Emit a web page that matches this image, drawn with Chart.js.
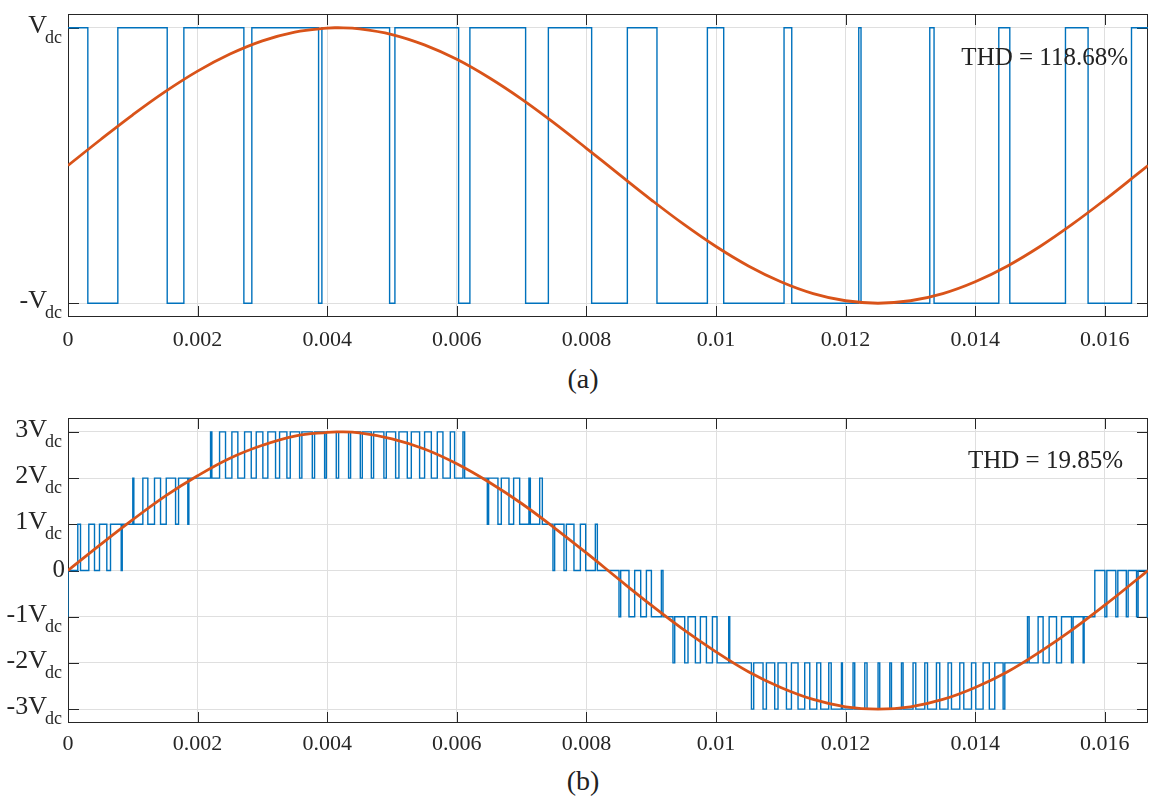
<!DOCTYPE html>
<html>
<head>
<meta charset="utf-8">
<title>PWM output voltage</title>
<script src="https://cdn.jsdelivr.net/npm/chart.js@4.4.0/dist/chart.umd.min.js"></script>
<style>
  body { margin: 0; background: #fff; width: 1149px; height: 799px; position: relative; overflow: hidden; }
  .wrap { position: absolute; left: 0; width: 1149px; }
  #boxA { top: 0; height: 362px; }
  #boxB { top: 404px; height: 360px; }
  .cap { position: absolute; left: 543px; width: 80px; text-align: center; font: 28px/30px "Liberation Serif", serif; color: #222; }
</style>
</head>
<body>
<div class="wrap" id="boxA"><canvas id="chartA" width="1149" height="362"></canvas></div>
<div class="wrap" id="boxB"><canvas id="chartB" width="1149" height="360"></canvas></div>
<div class="cap" style="top:364px">(a)</div>
<div class="cap" style="top:766px">(b)</div>
<script>
// ============================
// DATA
// ============================
const T_END = 1 / 60;

// x axis
const xTicks = [0, 0.002, 0.004, 0.006, 0.008, 0.01, 0.012, 0.014, 0.016];
const xLabels = ['0', '0.002', '0.004', '0.006', '0.008', '0.01', '0.012', '0.014', '0.016'];

// y axes
const yTicksA = [-1, 1];
const yLabelsA = [['-V', 'dc'], ['V', 'dc']];
const yTicksB = [-3, -2, -1, 0, 1, 2, 3];
const yLabelsB = [['-3V', 'dc'], ['-2V', 'dc'], ['-1V', 'dc'], ['0', ''], ['1V', 'dc'], ['2V', 'dc'], ['3V', 'dc']];

// reference sine (time in ms)
const refMs = [0, 0.5, 1, 1.5, 2, 2.5, 3, 3.5, 4, 4.167, 4.5, 5, 5.5, 6, 6.5, 7, 7.5, 8, 8.5, 9, 9.5,
  10, 10.5, 11, 11.5, 12, 12.5, 13, 13.5, 14, 14.5, 15, 15.5, 16, 16.5, 16.667];
const refA = [0, 0.187, 0.368, 0.536, 0.685, 0.809, 0.905, 0.969, 0.998, 1.0, 0.992, 0.951, 0.876, 0.771,
  0.637, 0.482, 0.309, 0.125, -0.063, -0.249, -0.426, -0.588, -0.729, -0.844, -0.930, -0.982, -1.0,
  -0.982, -0.930, -0.844, -0.729, -0.588, -0.426, -0.249, -0.063, 0];
const refB = [0, 0.56, 1.10, 1.61, 2.05, 2.43, 2.71, 2.91, 2.99, 3.0, 2.98, 2.85, 2.63, 2.31, 1.91, 1.45,
  0.93, 0.38, -0.19, -0.75, -1.28, -1.76, -2.19, -2.53, -2.79, -2.95, -3.0, -2.95, -2.79, -2.53, -2.19,
  -1.76, -1.28, -0.75, -0.19, 0];

// two-level output: [switch instant in us, level from that instant]
const pwmA = [
  [0, 1], [306, -1], [769, 1], [1531, -1], [1788, 1], [2714, -1], [2837, 1], [3867, -1], [3918, 1],
  [4963, -1], [5045, 1], [6028, -1], [6202, 1], [7062, -1], [7413, 1], [8081, -1], [8632, 1],
  [9089, -1], [9867, 1], [10119, -1], [11050, 1], [11169, -1], [12203, 1], [12238, -1],
  [13299, 1], [13365, -1], [14364, 1], [14534, -1], [15393, 1], [15742, -1], [16412, 1], [16667, 1]
];

// seven-level output: [switch instant in us, level from that instant]
const pwmB = [
  [0, -1], [0, 0], [151, 1], [193, 0], [321, 1], [409, 0], [486, 1], [599, 0], [656, 1], [821, 0], [837, 1],
  [1000, 2], [1016, 1], [1155, 2], [1232, 1], [1335, 2], [1428, 1], [1516, 2], [1660, 1], [1706, 2], [1849, 1], [1865, 2],
  [2200, 3], [2220, 2], [2339, 3], [2431, 2], [2529, 3], [2621, 2], [2725, 3], [2828, 2], [2905, 3], [3007, 2],
  [3084, 3], [3203, 2], [3265, 3], [3378, 2], [3430, 3], [3574, 2], [3609, 3], [3770, 2], [3805, 3], [3960, 2],
  [3986, 3], [4140, 2], [4176, 3], [4330, 2], [4361, 3], [4511, 2], [4542, 3], [4681, 2], [4716, 3], [4875, 2],
  [4912, 3], [5056, 2], [5107, 3], [5236, 2], [5298, 3], [5426, 2], [5503, 3], [5607, 2], [5699, 3], [5786, 2],
  [5900, 3], [5966, 2], [6095, 3], [6121, 2],
  [6471, 1], [6491, 2], [6635, 1], [6687, 2], [6805, 1], [6877, 2], [6970, 1], [7113, 2], [7135, 1], [7279, 2], [7320, 1],
  [7484, 0], [7510, 1], [7654, 0], [7691, 1], [7808, 0], [7907, 1], [7989, 0], [8138, 1], [8169, 0],
  [8503, -1], [8529, 0], [8657, -1], [8745, 0], [8838, -1], [8926, 0], [9003, -1], [9157, 0], [9182, -1],
  [9336, -2], [9363, -1], [9517, -2], [9568, -1], [9682, -2], [9759, -1], [9852, -2], [9945, -1], [10016, -2], [10196, -1], [10212, -2],
  [10547, -3], [10582, -2], [10726, -3], [10778, -2], [10906, -3], [10957, -2], [11087, -3], [11164, -2],
  [11266, -3], [11369, -2], [11447, -3], [11555, -2], [11616, -3], [11740, -2], [11778, -3], [11936, -2],
  [11951, -3], [12115, -2], [12141, -3], [12296, -2], [12331, -3], [12501, -2], [12527, -3], [12682, -2],
  [12708, -3], [12862, -2], [12887, -3], [13041, -2], [13083, -3], [13222, -2], [13264, -3], [13402, -2],
  [13453, -3], [13581, -2], [13634, -3], [13762, -2], [13824, -3], [13943, -2], [14009, -3], [14122, -2],
  [14218, -3], [14302, -2], [14431, -3], [14457, -2],
  [14807, -1], [14832, -2], [14971, -1], [15048, -2], [15141, -1], [15255, -2], [15332, -1], [15486, -2], [15511, -1], [15666, -2], [15681, -1],
  [15846, 0], [16001, -1], [16031, 0], [16170, -1], [16201, 0], [16332, -1], [16360, 0], [16490, -1], [16514, 0],
  [16655, -1], [16667, -1]
];

const thdA = 'THD = 118.68%';
const thdB = 'THD = 19.85%';

// ============================
// STYLE
// ============================
const SERIF = '"Liberation Serif", "Times New Roman", serif';
const AXIS = '#262626';
const GRID = '#dfdfdf';
const TICK = 11;

// box, inner tick marks, subscript tick labels and THD note
const framePlugin = {
  id: 'frame',
  beforeDatasetsDraw(chart, args, opts) {
    const { ctx, chartArea: a, scales: { x, y } } = chart;
    ctx.save();
    ctx.strokeStyle = AXIS;
    ctx.lineWidth = 1;
    ctx.strokeRect(a.left + 0.5, a.top + 0.5, a.right - a.left - 1, a.bottom - a.top - 1);
    ctx.beginPath();
    x.ticks.forEach(t => {
      const px = Math.round(x.getPixelForValue(t.value)) + 0.5;
      ctx.moveTo(px, a.top); ctx.lineTo(px, a.top + TICK);
      ctx.moveTo(px, a.bottom); ctx.lineTo(px, a.bottom - TICK);
    });
    y.ticks.forEach(t => {
      const py = Math.round(y.getPixelForValue(t.value)) + 0.5;
      ctx.moveTo(a.left, py); ctx.lineTo(a.left + TICK, py);
      ctx.moveTo(a.right, py); ctx.lineTo(a.right - TICK, py);
    });
    ctx.stroke();
    ctx.restore();
  },
  afterDraw(chart, args, opts) {
    const { ctx, scales: { y } } = chart;
    ctx.save();
    ctx.fillStyle = AXIS;
    opts.yTicks.forEach((v, i) => {
      const py = y.getPixelForValue(v);
      const [main, sub] = opts.yLabels[i];
      if (sub) {
        ctx.font = '18px ' + SERIF;
        const w = ctx.measureText(sub).width;
        ctx.textAlign = 'left';
        ctx.textBaseline = 'alphabetic';
        ctx.fillText(sub, 62 - w, py + 15);
        ctx.font = '26px ' + SERIF;
        ctx.textAlign = 'right';
        ctx.fillText(main, 62 - w + 2, py + 5);
      } else {
        ctx.font = '25px ' + SERIF;
        ctx.textAlign = 'right';
        ctx.textBaseline = 'middle';
        ctx.fillText(main, 65, py);
      }
    });
    // THD note
    ctx.font = '25px ' + SERIF;
    ctx.fillStyle = '#222';
    ctx.textAlign = 'right';
    ctx.textBaseline = 'alphabetic';
    ctx.fillText(opts.thd, opts.thdX, opts.thdY);
    ctx.restore();
  }
};

function makeChart(id, o) {
  const steps = o.pwm.map(p => ({ x: p[0] / 1e6, y: p[1] }));
  const ref = refMs.map((t, i) => ({ x: t / 1000, y: o.ref[i] }));

  return new Chart(document.getElementById(id), {
    type: 'line',
    data: {
      datasets: [
        { data: ref, borderColor: '#D95319', borderWidth: 2.8, pointRadius: 0, tension: 0.4, fill: false },
        { data: steps, borderColor: '#0072BD', borderWidth: 1.4, pointRadius: 0, stepped: true, fill: false }
      ]
    },
    options: {
      responsive: false,
      animation: false,
      events: [],
      layout: { padding: { top: 14, right: 1, left: 0, bottom: 0 } },
      plugins: {
        legend: { display: false },
        tooltip: { enabled: false },
        frame: { yTicks: o.yTicks, yLabels: o.yLabels, thd: o.thd, thdX: o.thdX, thdY: o.thdY }
      },
      scales: {
        x: {
          type: 'linear', min: 0, max: T_END,
          afterBuildTicks: s => { s.ticks = xTicks.map(v => ({ value: v })); },
          afterFit: s => { s.height = o.xHeight; },
          ticks: {
            callback: (v, i) => xLabels[i],
            font: { family: SERIF, size: 22 }, color: AXIS,
            padding: o.xPad, maxRotation: 0, autoSkip: false
          },
          grid: { color: GRID, drawTicks: false },
          border: { display: false }
        },
        y: {
          type: 'linear', min: o.yMin, max: o.yMax,
          afterBuildTicks: s => { s.ticks = o.yTicks.map(v => ({ value: v })); },
          afterFit: s => { s.width = 68; },
          ticks: { display: false },
          grid: { color: GRID, drawTicks: false },
          border: { display: false }
        }
      }
    },
    plugins: [framePlugin]
  });
}

// (a) two-level
makeChart('chartA', {
  pwm: pwmA, ref: refA, yMin: -1.1, yMax: 1.1, yTicks: yTicksA, yLabels: yLabelsA,
  thd: thdA, thdX: 1128, thdY: 65, xHeight: 45, xPad: 10
});

// (b) seven-level
makeChart('chartB', {
  pwm: pwmB, ref: refB, yMin: -3.3, yMax: 3.3, yTicks: yTicksB, yLabels: yLabelsB,
  thd: thdB, thdX: 1123, thdY: 64, xHeight: 41, xPad: 8
});
</script>
</body>
</html>
